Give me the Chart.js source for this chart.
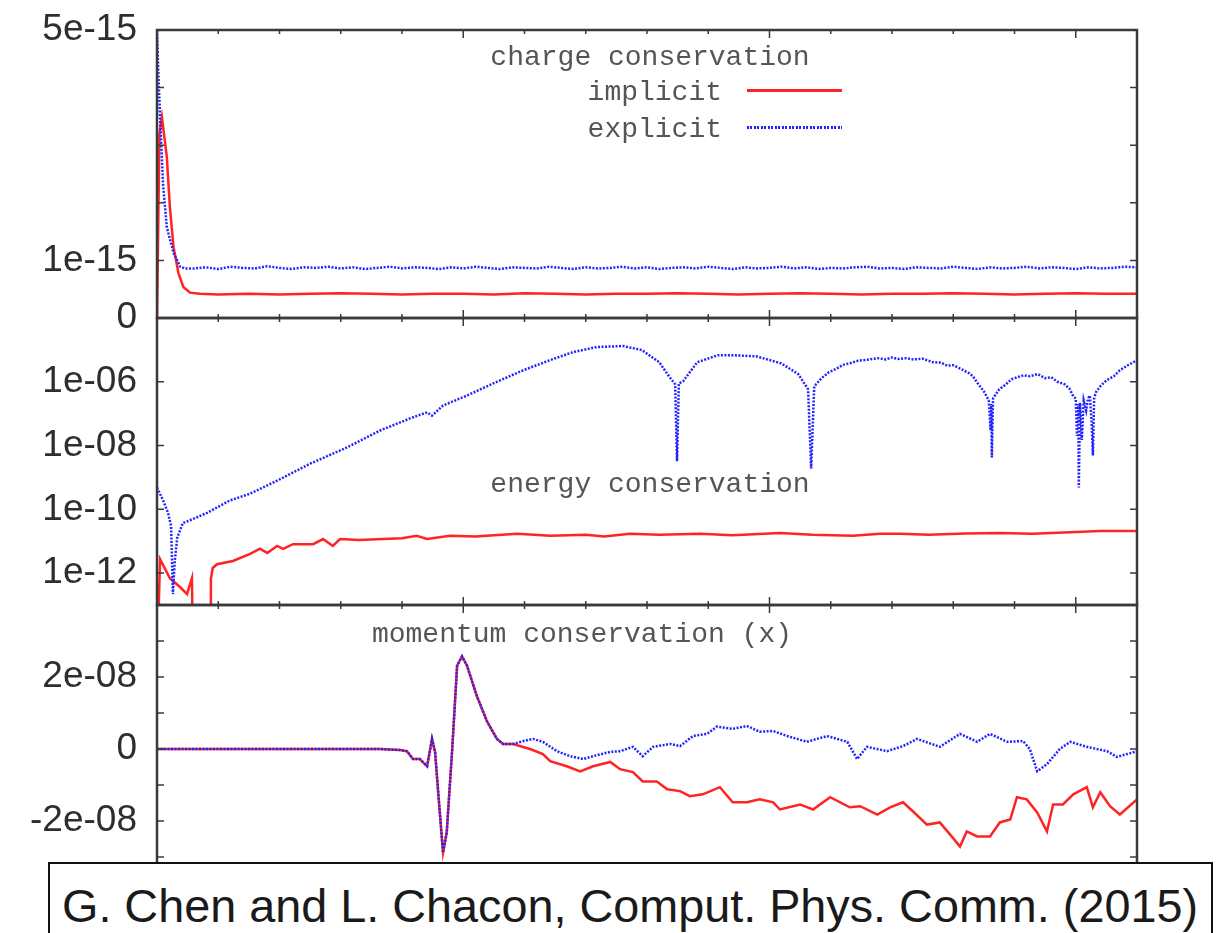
<!DOCTYPE html>
<html>
<head>
<meta charset="utf-8">
<script src="https://cdn.jsdelivr.net/npm/chart.js@4.4.1/dist/chart.umd.min.js"></script>
<style>
  html, body { margin: 0; padding: 0; background: #fff; }
  #page { position: relative; width: 1228px; height: 933px; overflow: hidden; background: #fff; }
  #page canvas { position: absolute; left: 0; top: 0; }
  .ptitle, .lgtext {
    position: absolute; font-family: 'Liberation Mono', 'DejaVu Sans Mono', monospace;
    font-size: 28px; line-height: 28px; color: #555; white-space: pre;
  }
  .ptitle { transform: translateX(-50%); }
  .lgline { position: absolute; height: 3px; }
  #cite {
    position: absolute; left: 48px; top: 862px; width: 1165px; height: 90px;
    box-sizing: border-box; border: 2px solid #111; background: #fff;
  }
  #citeText {
    position: absolute; left: 12px; top: 19px; font-family: 'Liberation Sans', Arial, sans-serif;
    font-size: 46px; line-height: 46px; color: #1a1a1a; white-space: pre; transform-origin: 0 0;
  }
</style>
</head>
<body>
<div id="page">
  <canvas id="chargeChart" width="1228" height="933"></canvas>
  <canvas id="energyChart" width="1228" height="933"></canvas>
  <canvas id="momentumChart" width="1228" height="933"></canvas>
  <div class="ptitle" style="left:650px; top:44px;">charge conservation</div>
  <div class="ptitle" style="left:650px; top:471px;">energy conservation</div>
  <div class="ptitle" style="left:582px; top:621px;">momentum conservation (x)</div>
  <div id="legend"></div>
  <div id="cite"><span id="citeText">G. Chen and L. Chacon, Comput. Phys. Comm. (2015)</span></div>
</div>
<script>
// shared time axis (no labels in the figure, only tick marks)
const xMinorTicks = [1, 2, 3, 4, 5, 6, 7, 8, 9, 10, 11, 12, 13, 14, 15];
const xMajorTicks = [5, 10, 15];

// --- charge conservation (units of 1e-15) ---
const chargeTickValues = [0, 1, 5];
const chargeTickLabels = ['0', '1e-15', '5e-15'];
const chargeMarks = [1, 2, 3, 4];

const chargeImplicitT = [0, 0.04, 0.08, 0.16, 0.21, 0.27, 0.35, 0.43, 0.54, 0.7,
  1, 1.5, 2, 2.5, 3, 3.5, 4, 4.5, 5, 5.5, 6, 6.5, 7, 7.5, 8, 8.5, 9, 9.5, 10, 10.5,
  11, 11.5, 12, 12.5, 13, 13.5, 14, 14.5, 15, 15.5, 16];
const chargeImplicit = [0, 3.2, 3.49, 2.8, 1.93, 1.23, 0.78, 0.54, 0.44, 0.42,
  0.41, 0.42, 0.41, 0.42, 0.43, 0.42, 0.41, 0.42, 0.42, 0.41,
  0.43, 0.42, 0.41, 0.42, 0.42, 0.43, 0.42, 0.41, 0.42, 0.43,
  0.42, 0.41, 0.42, 0.42, 0.43, 0.42, 0.41, 0.42, 0.43, 0.42, 0.42];

const chargeExplicitT = [0, 0.02, 0.05, 0.1, 0.16, 0.27, 0.38, 0.46,
  0.6, 0.8, 1, 1.2, 1.4, 1.6, 1.8, 2, 2.2, 2.4, 2.6, 2.8, 3, 3.2, 3.4, 3.6, 3.8, 4,
  4.2, 4.4, 4.6, 4.8, 5, 5.2, 5.4, 5.6, 5.8, 6, 6.2, 6.4, 6.6, 6.8, 7, 7.2, 7.4, 7.6,
  7.8, 8, 8.2, 8.4, 8.6, 8.8, 9, 9.2, 9.4, 9.6, 9.8, 10, 10.2, 10.4, 10.6, 10.8, 11,
  11.2, 11.4, 11.6, 11.8, 12, 12.2, 12.4, 12.6, 12.8, 13, 13.2, 13.4, 13.6, 13.8, 14,
  14.2, 14.4, 14.6, 14.8, 15, 15.2, 15.4, 15.6, 15.8, 16];
const chargeExplicit = [5.0, 4.3, 3.5, 2.3, 1.58, 1.13, 0.89, 0.86,
  0.86, 0.88, 0.85, 0.89, 0.87, 0.86, 0.90, 0.87, 0.85, 0.88,
  0.87, 0.89, 0.86, 0.88, 0.85, 0.87, 0.89, 0.86, 0.88, 0.87,
  0.85, 0.88, 0.86, 0.89, 0.87, 0.85, 0.88, 0.87, 0.86, 0.89,
  0.87, 0.85, 0.88, 0.86, 0.87, 0.89, 0.86, 0.88, 0.85, 0.87,
  0.88, 0.86, 0.89, 0.87, 0.85, 0.88, 0.86, 0.87, 0.89, 0.86,
  0.88, 0.85, 0.87, 0.86, 0.88, 0.89, 0.86, 0.87, 0.85, 0.88,
  0.87, 0.86, 0.89, 0.87, 0.85, 0.88, 0.86, 0.87, 0.89, 0.86,
  0.88, 0.87, 0.85, 0.88, 0.86, 0.87, 0.89, 0.88];

// --- energy conservation (log scale) ---
const energyTickValues = [1e-12, 1e-10, 1e-8, 1e-6];
const energyTickLabels = ['1e-12', '1e-10', '1e-08', '1e-06'];

const energyImplicitT = [0, 0.05, 0.21, 0.38, 0.49, 0.57, 0.59, 0.87, 0.88, 0.91,
  0.98, 1.24, 1.52, 1.68, 1.8, 1.96, 2.06, 2.22, 2.55, 2.71, 2.87, 2.99, 3.3, 3.69,
  4, 4.24, 4.41, 4.78, 5.2, 5.88, 6.42, 7, 7.3, 7.72, 8.2, 8.87, 9.4, 10.17, 10.7,
  11.36, 11.8, 12.13, 12.6, 13.2, 13.76, 14.3, 14.9, 15.4, 16];
const energyImplicit = [1e-15, 2.75e-12, 6.9e-13, 3.6e-13, 2.2e-13, 6.9e-13, 1e-15, 1e-15, 6.6e-13, 1.45e-12,
  1.9e-12, 2.4e-12, 4.0e-12, 5.8e-12, 4.3e-12, 7.1e-12, 5.8e-12, 8.1e-12, 8.1e-12, 1.17e-11,
  7.1e-12, 1.17e-11, 1.1e-11, 1.17e-11, 1.25e-11, 1.48e-11, 1.17e-11, 1.48e-11, 1.4e-11, 1.7e-11,
  1.48e-11, 1.6e-11, 1.4e-11, 1.7e-11, 1.6e-11, 1.7e-11, 1.55e-11, 1.8e-11, 1.6e-11, 1.48e-11,
  1.7e-11, 1.7e-11, 1.6e-11, 1.75e-11, 1.8e-11, 1.7e-11, 1.9e-11, 2.1e-11, 2.1e-11];

const energyExplicitT = [0, 0.1, 0.18, 0.23, 0.26, 0.29, 0.33, 0.42, 0.59, 0.82,
  1, 1.19, 1.52, 1.96, 2.5, 3.1, 3.64, 4.13, 4.41, 4.49,
  4.67, 5.06, 5.49, 5.98, 6.42, 6.79, 7.18, 7.61, 7.92, 8.2,
  8.36, 8.46, 8.49, 8.52, 8.59, 8.82, 9.16, 9.39, 9.78, 10.19,
  10.47, 10.63, 10.68, 10.73, 10.85, 10.97, 11.1, 11.2, 11.31, 11.45,
  11.6, 11.77, 11.9, 12, 12.1, 12.23, 12.35, 12.5, 12.67, 12.8,
  12.9, 13, 13.13, 13.25, 13.32, 13.4, 13.5, 13.58, 13.61, 13.62,
  13.63, 13.65, 13.68, 13.75, 13.85, 13.95, 14.04, 14.15, 14.25, 14.38,
  14.5, 14.6, 14.7, 14.82, 14.9, 14.96, 15, 15.02, 15.04, 15.05,
  15.07, 15.1, 15.13, 15.17, 15.2, 15.23, 15.26, 15.28, 15.3, 15.33,
  15.4, 15.5, 15.62, 15.72, 15.85, 15.93, 16];
const energyExplicit = [4.8e-10, 1.9e-10, 7.8e-11, 3.0e-11, 2.2e-13, 2.4e-12, 1.26e-11, 3.7e-11, 5.0e-11, 7.8e-11,
  1.2e-10, 1.9e-10, 3.1e-10, 7.9e-10, 2.7e-9, 8.7e-9, 2.95e-8, 7.1e-8, 1.1e-7, 8.7e-8,
  1.8e-7, 3.7e-7, 8.9e-7, 2.3e-6, 4.8e-6, 8.5e-6, 1.23e-5, 1.32e-5, 9.8e-6, 4.1e-6,
  1.48e-6, 8.3e-7, 3.2e-9, 8.9e-7, 1.04e-6, 4.1e-6, 6.8e-6, 6.8e-6, 6.3e-6, 3.8e-6,
  1.74e-6, 5.8e-7, 1.9e-9, 7.2e-7, 1.3e-6, 2.0e-6, 2.6e-6, 3.4e-6, 3.8e-6, 4.6e-6,
  4.9e-6, 5.5e-6, 5.0e-6, 5.8e-6, 5.2e-6, 5.5e-6, 5.0e-6, 5.3e-6, 4.1e-6, 4.0e-6,
  3.2e-6, 3.3e-6, 2.5e-6, 1.9e-6, 1.5e-6, 8.9e-7, 5.0e-7, 2.6e-7, 3e-8, 2.0e-7,
  4.2e-9, 3.0e-7, 3.7e-7, 5.8e-7, 8.0e-7, 1.2e-6, 1.38e-6, 1.6e-6, 1.5e-6, 1.74e-6,
  1.3e-6, 1.38e-6, 1.0e-6, 8.3e-7, 6.0e-7, 3.5e-7, 3.0e-7, 2e-8, 2.0e-7, 4.8e-10,
  2.2e-7, 1.5e-8, 2.6e-7, 1.26e-7, 3.0e-7, 3.7e-7, 5e-8, 4.9e-9, 3.0e-7, 4.7e-7,
  7.2e-7, 1.1e-6, 1.48e-6, 2.3e-6, 3.3e-6, 4.0e-6, 4.8e-6];

// --- momentum conservation (x), units of 1e-8 ---
const momentumTickValues = [-2, 0, 2];
const momentumTickLabels = ['-2e-08', '0', '2e-08'];
const momentumMarks = [-3, -2, -1, 0, 1, 2, 3];

// both runs agree until the pulse has passed
const momentumCommonT = [0, 3.64, 3.97, 4.08, 4.18, 4.29, 4.41, 4.49, 4.54, 4.6,
  4.67, 4.73, 4.82, 4.9, 4.98, 5.06, 5.22, 5.39, 5.55, 5.65, 5.81];
const momentumCommon = [0, 0, -0.03, -0.06, -0.28, -0.28, -0.48, 0.28, -0.08, -1.4,
  -2.88, -2.32, 0, 2.32, 2.57, 2.32, 1.48, 0.76, 0.28, 0.14, 0.14];

const momentumImplicitTailT = [6.09, 6.3, 6.42, 6.69, 6.91, 7.12, 7.4, 7.56, 7.77, 7.93,
  8.16, 8.33, 8.54, 8.7, 8.91, 9.19, 9.4, 9.63, 9.84, 10.06,
  10.17, 10.5, 10.71, 10.99, 11.31, 11.48, 11.76, 11.97, 12.18, 12.34,
  12.57, 12.78, 12.95, 13.11, 13.22, 13.39, 13.6, 13.76, 13.93, 14.04,
  14.2, 14.37, 14.53, 14.63, 14.79, 14.96, 15.18, 15.28, 15.4, 15.56, 15.72, 16];
const momentumImplicitTail = [0, -0.14, -0.34, -0.48, -0.62, -0.48, -0.36, -0.56, -0.64, -0.9,
  -0.9, -1.12, -1.17, -1.31, -1.26, -1.06, -1.48, -1.48, -1.4, -1.48,
  -1.68, -1.54, -1.68, -1.34, -1.62, -1.59, -1.82, -1.62, -1.48, -1.73,
  -2.1, -2.04, -2.38, -2.71, -2.29, -2.43, -2.43, -2.04, -1.96, -1.34,
  -1.4, -1.76, -2.29, -1.54, -1.54, -1.26, -1.06, -1.62, -1.2, -1.59, -1.82, -1.4];

const momentumExplicitTailT = [5.98, 6.14, 6.3, 6.53, 6.74, 6.96, 7.12, 7.4, 7.56, 7.77,
  7.93, 8.1, 8.38, 8.54, 8.75, 8.98, 9.14, 9.4, 9.63, 9.84,
  10.06, 10.29, 10.61, 10.94, 11.27, 11.43, 11.59, 11.92, 12.18, 12.41,
  12.78, 13.11, 13.39, 13.6, 13.88, 14.14, 14.25, 14.37, 14.53, 14.74,
  14.91, 15.18, 15.51, 15.67, 15.84, 16];
const momentumExplicitTail = [0.22, 0.28, 0.2, -0.06, -0.2, -0.28, -0.2, -0.08, -0.06, 0.06,
  -0.2, 0.06, 0.14, 0.08, 0.36, 0.42, 0.62, 0.56, 0.64, 0.48,
  0.5, 0.36, 0.2, 0.36, 0.2, -0.28, 0.06, -0.06, 0.08, 0.28,
  0.06, 0.42, 0.2, 0.42, 0.2, 0.22, 0, -0.62, -0.42, 0,
  0.2, 0.06, -0.06, -0.22, -0.14, -0.06];

// layout
const PAGE_W = 1228, PAGE_H = 933;
const PLOT_LEFT = 157, PLOT_RIGHT = 1137;
const RED = 'rgb(255,35,35)';
const BLUE = 'rgb(35,35,255)';

const frameTicks = {
  id: 'frameTicks',
  afterDatasetsDraw(chart, args, opts) {
    const {ctx, chartArea: a} = chart;
    const xs = chart.scales.x, ys = chart.scales.y;
    ctx.save();
    ctx.strokeStyle = '#3a3a3a';
    ctx.lineWidth = 1.5;
    ctx.beginPath();
    xMinorTicks.forEach(v => {
      const px = xs.getPixelForValue(v);
      const len = xMajorTicks.includes(v) ? 8 : 4;
      ctx.moveTo(px, a.top); ctx.lineTo(px, a.top + len);
      ctx.moveTo(px, a.bottom); ctx.lineTo(px, a.bottom - len);
    });
    (opts.marks || []).forEach(v => {
      const py = ys.getPixelForValue(v);
      ctx.moveTo(a.left, py); ctx.lineTo(a.left + 7, py);
      ctx.moveTo(a.right, py); ctx.lineTo(a.right - 7, py);
    });
    ctx.stroke();
    ctx.lineWidth = 2.5;
    ctx.strokeRect(a.left, a.top, a.right - a.left, a.bottom - a.top);
    ctx.restore();
  }
};

function series(label, ts, vs, style) {
  return Object.assign({
    label: label,
    data: ts.map((t, i) => ({x: t, y: vs[i]})),
    pointRadius: 0, tension: 0, fill: false, clip: 0
  }, style);
}

const implicitStyle = {borderColor: RED, borderWidth: 2.5, order: 1};
const explicitStyle = {borderColor: BLUE, borderWidth: 2.5, borderDash: [2, 1.5], order: 0};

function panel(id, top, bottom, yType, yMin, yMax, tickValues, tickLabels, marks, datasets) {
  return new Chart(document.getElementById(id), {
    type: 'line',
    data: {datasets: datasets},
    options: {
      responsive: false,
      animation: false,
      events: [],
      layout: {padding: {top: top, bottom: PAGE_H - bottom, left: 0, right: PAGE_W - PLOT_RIGHT}},
      plugins: {legend: {display: false}, tooltip: {enabled: false}, frameTicks: {marks: marks}},
      scales: {
        x: {type: 'linear', min: 0, max: 16, display: false},
        y: {
          type: yType, min: yMin, max: yMax,
          grid: {display: false, drawTicks: false},
          border: {display: false},
          ticks: {
            autoSkip: false, maxRotation: 0, padding: 20,
            color: '#2e2e2e',
            font: {family: "'Liberation Sans', Arial, sans-serif", size: 37},
            callback: (v, i) => tickLabels[i]
          },
          afterBuildTicks: s => { s.ticks = tickValues.map(v => ({value: v})); },
          afterFit: s => { s.width = PLOT_LEFT; s.paddingTop = 0; s.paddingBottom = 0; }
        }
      }
    },
    plugins: [frameTicks]
  });
}

const chargeChart = panel('chargeChart', 30, 318, 'linear', 0, 5,
  chargeTickValues, chargeTickLabels, chargeMarks, [
    series('implicit', chargeImplicitT, chargeImplicit, implicitStyle),
    series('explicit', chargeExplicitT, chargeExplicit, explicitStyle)
  ]);

panel('energyChart', 318, 605, 'logarithmic', 1e-13, 1e-4,
  energyTickValues, energyTickLabels, energyTickValues, [
    series('implicit', energyImplicitT, energyImplicit, implicitStyle),
    series('explicit', energyExplicitT, energyExplicit, explicitStyle)
  ]);

panel('momentumChart', 605, 893, 'linear', -4, 4,
  momentumTickValues, momentumTickLabels, momentumMarks, [
    series('implicit', momentumCommonT.concat(momentumImplicitTailT),
      momentumCommon.concat(momentumImplicitTail), implicitStyle),
    series('explicit', momentumCommonT.concat(momentumExplicitTailT),
      momentumCommon.concat(momentumExplicitTail), explicitStyle)
  ]);

// gnuplot style key inside the top panel
const legend = document.getElementById('legend');
chargeChart.data.datasets.forEach((ds, i) => {
  const cy = 92 + i * 37;
  const txt = document.createElement('div');
  txt.className = 'lgtext';
  txt.style.right = (PAGE_W - 722) + 'px';
  txt.style.top = (cy - 13) + 'px';
  txt.textContent = ds.label;
  legend.appendChild(txt);
  const ln = document.createElement('div');
  ln.className = 'lgline';
  ln.style.left = '747px';
  ln.style.width = '95px';
  ln.style.top = (cy - 3) + 'px';
  ln.style.background = ds.borderDash
    ? 'repeating-linear-gradient(to right, ' + ds.borderColor + ' 0 2px, transparent 2px 3.5px)'
    : ds.borderColor;
  legend.appendChild(ln);
});

// fit the citation to the width it has in the figure
const cite = document.getElementById('citeText');
const w = cite.getBoundingClientRect().width;
cite.style.transform = 'scaleX(' + (1136 / w) + ')';
</script>
</body>
</html>
